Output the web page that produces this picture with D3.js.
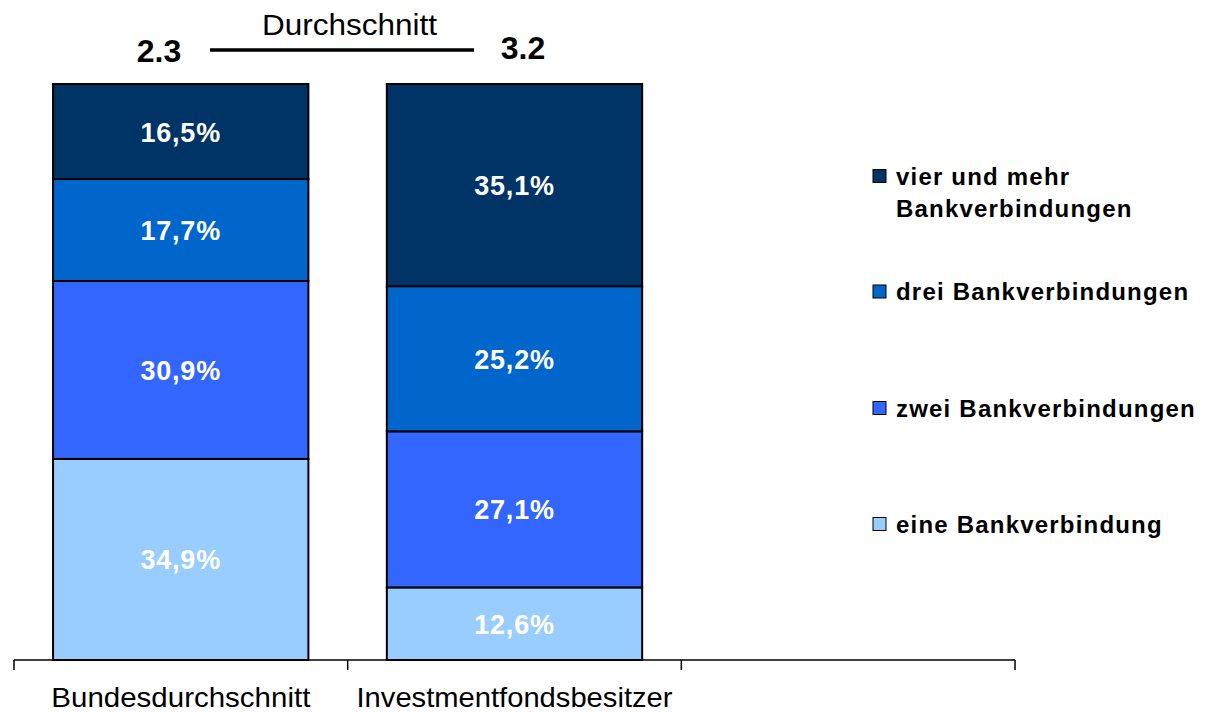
<!DOCTYPE html>
<html>
<head>
<meta charset="utf-8">
<script src="https://cdn.jsdelivr.net/npm/d3@7"></script>
<style>
  body { margin: 0; background: #fff; }
  svg { display: block; font-family: "Liberation Sans", Arial, sans-serif; }
</style>
</head>
<body>
<svg id="chart" width="1207" height="712"></svg>
<script>
// categories (third slot is empty in the original)
const categories = ["Bundesdurchschnitt", "Investmentfondsbesitzer", ""];
const seriesNames = ["eine Bankverbindung", "zwei Bankverbindungen", "drei Bankverbindungen", "vier und mehr Bankverbindungen"];
const eine = [34.9, 12.6];
const zwei = [30.9, 27.1];
const drei = [17.7, 25.2];
const vier = [16.5, 35.1];
const averages = [2.3, 3.2];
const colors = ["#99CCFF", "#3366FF", "#0066CC", "#003366"];

const svg = d3.select("#chart");

const x = d3.scaleBand()
    .domain(categories)
    .range([14, 1015])
    .paddingInner(0.235)
    .paddingOuter(0.117);

const y = d3.scaleLinear()
    .domain([0, 100])
    .range([660, 84]);

// Build rows for stacking
const rows = categories.slice(0, 2).map((c, i) => ({
    cat: c,
    s0: eine[i], s1: zwei[i], s2: drei[i], s3: vier[i]
}));
const stack = d3.stack().keys(["s0", "s1", "s2", "s3"]);
const layers = stack(rows);

const g = svg.append("g");

layers.forEach((layer, li) => {
    g.selectAll(".seg" + li)
        .data(layer)
        .enter()
        .append("rect")
        .attr("x", d => x(d.data.cat))
        .attr("y", d => y(d[1]))
        .attr("width", x.bandwidth())
        .attr("height", d => y(d[0]) - y(d[1]))
        .attr("fill", colors[li])
        .attr("stroke", "#000")
        .attr("stroke-width", 2);

    g.selectAll(".lab" + li)
        .data(layer)
        .enter()
        .append("text")
        .attr("x", d => x(d.data.cat) + x.bandwidth() / 2)
        .attr("y", d => (y(d[0]) + y(d[1])) / 2 + 10)
        .attr("text-anchor", "middle")
        .attr("font-size", 27)
        .attr("font-weight", "bold")
        .attr("letter-spacing", 0.8)
        .attr("fill", "#fff")
        .text(d => (d[1] - d[0]).toFixed(1).replace(".", ",") + "%");
});

// X axis with ticks at band boundaries
const step = (1015 - 14) / categories.length;
const axisScale = d3.scaleLinear().domain([0, categories.length]).range([14, 1015]);
const axisG = svg.append("g").attr("transform", "translate(0,660)");
axisG.append("line")
    .attr("x1", 14).attr("x2", 1015)
    .attr("stroke", "#000").attr("stroke-width", 1.5);
axisG.selectAll(".tick")
    .data(d3.range(categories.length + 1))
    .enter()
    .append("line")
    .attr("x1", d => axisScale(d)).attr("x2", d => axisScale(d))
    .attr("y1", 0).attr("y2", 10)
    .attr("stroke", "#000").attr("stroke-width", 1.5);

axisG.selectAll(".catlabel")
    .data(categories.filter(c => c))
    .enter()
    .append("text")
    .attr("x", (d, i) => axisScale(i) + step / 2)
    .attr("y", 47)
    .attr("text-anchor", "middle")
    .attr("font-size", 28)
    .attr("fill", "#000")
    .attr("textLength", (d, i) => i === 0 ? 259 : 316)
    .attr("lengthAdjust", "spacingAndGlyphs")
    .text(d => d);

// Averages header
svg.selectAll(".avg")
    .data(averages)
    .enter()
    .append("text")
    .attr("x", (d, i) => i === 0 ? 159 : 523)
    .attr("y", (d, i) => i === 0 ? 62 : 59)
    .attr("text-anchor", "middle")
    .attr("font-size", 32)
    .attr("font-weight", "bold")
    .attr("fill", "#000")
    .text(d => d.toFixed(1));

svg.append("line")
    .attr("x1", 210).attr("x2", 474)
    .attr("y1", 50).attr("y2", 50)
    .attr("stroke", "#000").attr("stroke-width", 3.5);

svg.append("text")
    .attr("x", 262)
    .attr("y", 35)
    .attr("font-size", 29)
    .attr("fill", "#000")
    .attr("textLength", 175)
    .attr("lengthAdjust", "spacingAndGlyphs")
    .text("Durchschnitt");

// Legend (top to bottom: vier, drei, zwei, eine)
const legendItems = [
    { lines: ["vier und mehr", "Bankverbindungen"], color: colors[3], y: 169.5 },
    { lines: ["drei Bankverbindungen"], color: colors[2], y: 285 },
    { lines: ["zwei Bankverbindungen"], color: colors[1], y: 401.5 },
    { lines: ["eine Bankverbindung"], color: colors[0], y: 517.5 }
];

const legend = svg.append("g");
legendItems.forEach(item => {
    legend.append("rect")
        .attr("x", 873)
        .attr("y", item.y)
        .attr("width", 13)
        .attr("height", 13)
        .attr("fill", item.color)
        .attr("stroke", "#000")
        .attr("stroke-width", 1);
    item.lines.forEach((ln, j) => {
        legend.append("text")
            .attr("x", 896)
            .attr("y", item.y + 15 + j * 32)
            .attr("font-size", 24)
            .attr("font-weight", "bold")
            .attr("letter-spacing", 1.2)
            .attr("fill", "#000")
            .text(ln);
    });
});
</script>
</body>
</html>
